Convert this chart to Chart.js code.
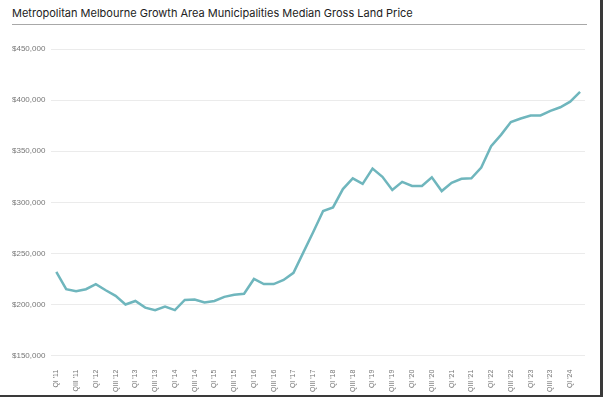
<!DOCTYPE html>
<html>
<head>
<meta charset="utf-8">
<script src="https://cdn.jsdelivr.net/npm/chart.js@4.4.1/dist/chart.umd.min.js"></script>
<style>
  html, body { margin: 0; padding: 0; background: #fff; }
  .card {
    position: relative;
    width: 600px; height: 395px;
    border-right: 3px solid #3a3a3a;
    border-bottom: 2px solid #3a3a3a;
    overflow: hidden;
  }
  .card-title {
    position: absolute; left: 12px; top: 6px;
    font: 400 11px "Inter", "Liberation Sans", sans-serif;
    color: #222;
    white-space: nowrap;
  }
  .card-rule {
    position: absolute; left: 12px; top: 24px;
    width: 575px; height: 1px; background: #a8a8a8;
  }
  .chart-wrap { position: absolute; left: 0; top: 0; width: 600px; height: 399px; }
</style>
</head>
<body>
<div class="card">
  <div class="card-title">Metropolitan Melbourne Growth Area Municipalities Median Gross Land Price</div>
  <div class="card-rule"></div>
  <div class="chart-wrap"><canvas id="land-chart"></canvas></div>
</div>

<script>
// ─── Data ─────────────────────────────────────────────────────────────────────
const quarters = [
  "QI '11", "QII '11", "QIII '11", "QIV '11",
  "QI '12", "QII '12", "QIII '12", "QIV '12",
  "QI '13", "QII '13", "QIII '13", "QIV '13",
  "QI '14", "QII '14", "QIII '14", "QIV '14",
  "QI '15", "QII '15", "QIII '15", "QIV '15",
  "QI '16", "QII '16", "QIII '16", "QIV '16",
  "QI '17", "QII '17", "QIII '17", "QIV '17",
  "QI '18", "QII '18", "QIII '18", "QIV '18",
  "QI '19", "QII '19", "QIII '19", "QIV '19",
  "QI '20", "QII '20", "QIII '20", "QIV '20",
  "QI '21", "QII '21", "QIII '21", "QIV '21",
  "QI '22", "QII '22", "QIII '22", "QIV '22",
  "QI '23", "QII '23", "QIII '23", "QIV '23",
  "QI '24", "QII '24",
];

const medianPrice = [
  232000, 215000, 213000, 215000, 220000, 214000, 208500, 200000,
  203500, 197000, 194500, 198000, 194500, 204500, 205000, 202000,
  203500, 207500, 209500, 210500, 225000, 220000, 220000, 224000,
  231000, 251000, 271000, 291500, 295000, 313000, 323500, 318000,
  333000, 325000, 312000, 320000, 316000, 316000, 324500, 311000,
  319000, 323000, 323500, 334000, 355000, 366000, 378500, 382000,
  385000, 385000, 389500, 393000, 398500, 408000,
];

const yMin = 150000;
const yMax = 450000;
const yStep = 50000;

// ─── Chart ────────────────────────────────────────────────────────────────────
const tickFont = { family: "'Liberation Sans', Arial, sans-serif" };

new Chart(document.getElementById('land-chart'), {
  type: 'line',
  data: {
    labels: quarters,
    datasets: [{
      label: 'Median gross land price',
      data: medianPrice,
      borderColor: '#6fb6bd',
      borderWidth: 2.5,
      pointRadius: 0,
      tension: 0,
      fill: false,
    }],
  },
  options: {
    responsive: true,
    maintainAspectRatio: false,
    animation: false,
    layout: { padding: { top: 49, left: 6, right: 15, bottom: 1 } },
    plugins: {
      legend: { display: false },
      tooltip: { enabled: false },
    },
    scales: {
      x: {
        offset: true,
        grid: { display: false },
        border: { display: false },
        ticks: {
          autoSkip: false,
          minRotation: 90,
          maxRotation: 90,
          padding: 6,
          color: '#777',
          font: { ...tickFont, size: 7 },
          callback: (v, i) => (i % 2 === 0 ? quarters[i] : ''),
        },
      },
      y: {
        min: yMin,
        max: yMax,
        grid: { color: '#ebebeb', drawTicks: false },
        border: { display: false },
        ticks: {
          stepSize: yStep,
          padding: 6,
          color: '#777',
          font: { ...tickFont, size: 8 },
          callback: v => '$' + v.toLocaleString('en-US'),
        },
      },
    },
  },
});
</script>
</body>
</html>
